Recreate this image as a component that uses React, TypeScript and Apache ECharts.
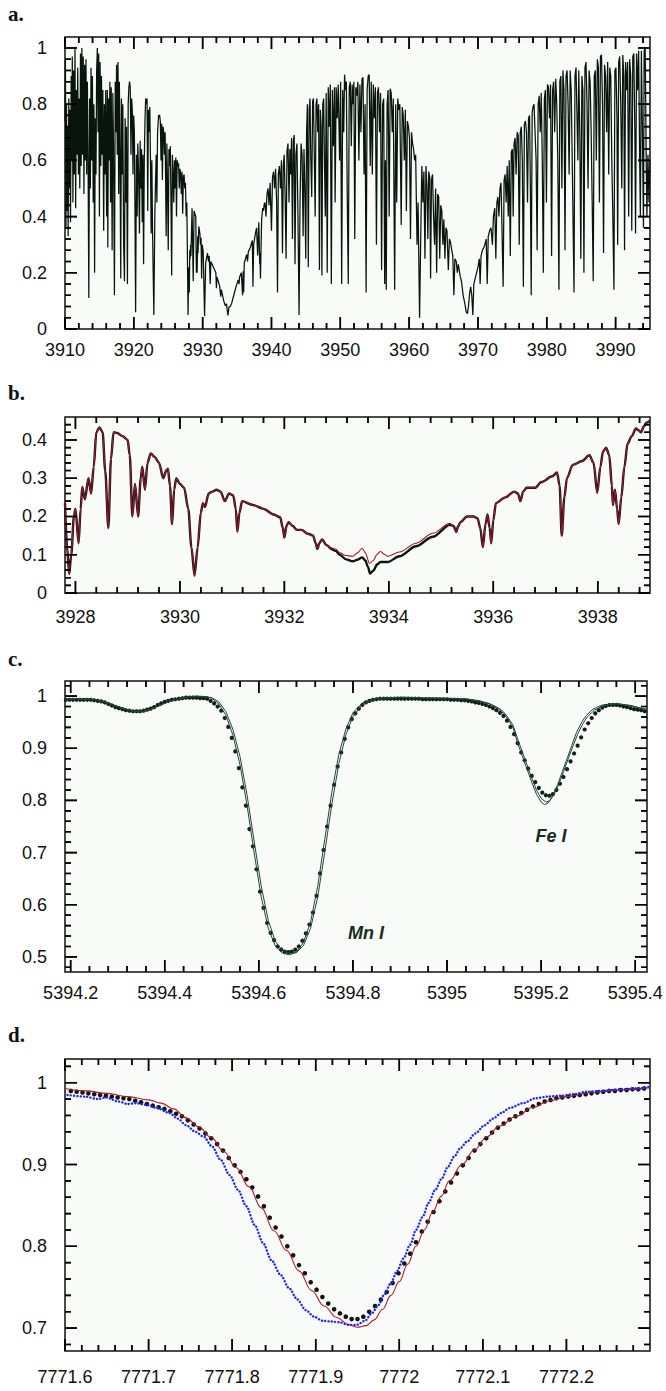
import React, { useEffect, useRef } from "react";
import * as echarts from "echarts";

type P = [number, number];

// ---------------- Panel a : Ca II H & K region ----------------
const A_BLUE_WING: P[] = [
  [3910.00,0.74],[3910.06,0.96],[3910.14,0.36],[3910.22,0.80],[3910.30,0.42],[3910.38,0.72],[3910.46,0.33],[3910.55,0.82],[3910.64,0.50],[3910.72,0.78],
  [3910.80,0.38],[3910.90,0.90],[3910.98,0.60],[3911.06,0.97],[3911.15,0.45],[3911.25,0.92],[3911.35,0.55],[3911.45,1.00],[3911.55,0.43],[3911.65,0.85],
  [3911.75,0.62],[3911.85,0.93],[3911.95,0.55],[3912.05,0.82],[3912.15,0.50],[3912.25,0.98],[3912.35,0.58],[3912.45,1.00],[3912.55,0.62],[3912.65,0.97],
  [3912.75,0.48],[3912.85,0.94],[3912.95,0.60],[3913.05,0.96],[3913.15,0.55],[3913.25,0.88],[3913.35,0.62],[3913.46,0.11],[3913.58,0.82],[3913.68,0.50],
  [3913.78,0.93],[3913.88,0.60],[3913.98,0.90],[3914.10,0.45],[3914.20,0.80],[3914.30,0.20],[3914.40,0.75],[3914.50,0.55],[3914.60,0.92],[3914.70,1.00],
  [3914.80,0.70],[3914.90,0.98],[3915.00,0.40],[3915.10,0.95],[3915.20,0.58],[3915.30,0.90],[3915.40,0.62],[3915.50,0.85],[3915.62,0.35],[3915.72,0.80],
  [3915.82,0.55],[3915.92,0.85],[3916.05,0.40],[3916.15,0.85],[3916.22,0.29],[3916.32,0.82],[3916.42,0.60],[3916.52,0.88],[3916.62,0.45],[3916.72,0.86],
  [3916.85,0.28],[3916.95,0.84],[3917.05,0.65],[3917.18,0.12],[3917.30,0.88],[3917.40,0.70],[3917.50,0.94],[3917.60,0.62],[3917.70,0.95],[3917.80,0.48],
  [3917.90,0.88],[3918.00,0.60],[3918.10,0.18],[3918.20,0.82],[3918.30,0.55],[3918.40,0.80],[3918.52,0.30],[3918.64,0.17],[3918.74,0.75],[3918.84,0.45],
  [3918.94,0.72],[3919.07,0.16],[3919.18,0.80],[3919.28,0.86],[3919.38,0.88],[3919.48,0.86],[3919.58,0.62],[3919.68,0.82],[3919.78,0.78],[3919.88,0.55],
  [3919.98,0.76],[3920.08,0.70],[3920.16,0.45],[3920.26,0.06],[3920.38,0.62],[3920.48,0.40],[3920.58,0.66],[3920.70,0.55],[3920.82,0.34],[3920.92,0.67],
  [3921.02,0.50],[3921.12,0.64],[3921.22,0.38],[3921.32,0.62],[3921.42,0.23],[3921.52,0.60],[3921.62,0.74],[3921.72,0.82],[3921.82,0.80],[3921.92,0.82],
  [3922.02,0.42],[3922.12,0.78],[3922.22,0.70],[3922.32,0.79],[3922.42,0.60],[3922.52,0.34],[3922.62,0.60],[3922.72,0.35],[3922.91,0.05],[3923.05,0.40],
  [3923.15,0.52],[3923.25,0.62],[3923.35,0.45],[3923.45,0.70],[3923.60,0.76],[3923.75,0.76],[3923.85,0.74],[3923.95,0.60],[3924.05,0.73],[3924.15,0.53],
  [3924.25,0.72],[3924.35,0.70],[3924.45,0.62],[3924.55,0.70],[3924.70,0.33],[3924.80,0.66],[3924.90,0.50],[3925.00,0.28],[3925.10,0.64],[3925.20,0.58],
  [3925.30,0.65],[3925.40,0.45],[3925.50,0.19],[3925.60,0.62],[3925.70,0.55],[3925.80,0.45],[3925.90,0.60],[3926.00,0.50],[3926.10,0.61],[3926.20,0.40],
  [3926.30,0.60],[3926.40,0.58],[3926.50,0.59],[3926.60,0.50],[3926.70,0.57],[3926.80,0.55],[3926.90,0.48],[3927.00,0.56],[3927.10,0.41],[3927.20,0.54],
  [3927.30,0.55],[3927.40,0.50],[3927.50,0.52],[3927.60,0.40],[3927.70,0.45],[3927.80,0.235],
];
const A_K_CORE: P[] = [
  [3927.88,0.05],[3927.95,0.18],[3928.00,0.22],[3928.06,0.13],[3928.13,0.28],[3928.18,0.25],[3928.25,0.30],[3928.30,0.26],[3928.46,0.43],[3928.63,0.17],
  [3928.75,0.42],[3929.00,0.40],[3929.09,0.20],[3929.14,0.28],[3929.20,0.20],[3929.28,0.33],[3929.33,0.27],[3929.44,0.365],[3929.60,0.34],[3929.68,0.30],
  [3929.77,0.325],[3929.85,0.18],[3929.93,0.30],[3930.08,0.275],[3930.28,0.045],[3930.44,0.235],[3930.70,0.27],[3930.86,0.24],[3930.96,0.26],[3931.10,0.16],
  [3931.19,0.24],[3931.92,0.20],[3932.00,0.145],[3932.08,0.185],[3932.45,0.155],[3932.63,0.115],[3932.72,0.14],[3933.06,0.10],[3933.30,0.083],[3933.46,0.09],
  [3933.67,0.048],[3933.84,0.08],[3934.00,0.08],[3934.20,0.09],[3934.52,0.12],[3934.85,0.15],[3935.17,0.175],[3935.29,0.16],[3935.37,0.185],[3935.62,0.20],
  [3935.80,0.12],[3935.89,0.205],[3935.96,0.13],[3936.05,0.235],[3936.40,0.265],[3936.52,0.24],[3936.64,0.275],[3936.92,0.29],[3937.22,0.315],[3937.31,0.15],
  [3937.41,0.30],[3937.70,0.345],[3937.84,0.36],[3937.99,0.262],[3938.16,0.38],[3938.29,0.23],[3938.33,0.27],[3938.40,0.18],[3938.57,0.39],[3938.73,0.43],
  [3938.83,0.42],[3938.95,0.445],
];
const A_MID: P[] = [
  [3939.05,0.45],[3939.20,0.40],[3939.35,0.48],[3939.50,0.50],[3939.65,0.44],[3939.80,0.52],[3940.00,0.35],[3940.15,0.54],[3940.30,0.56],[3940.45,0.50],
  [3940.60,0.57],[3940.75,0.45],[3940.88,0.13],[3941.00,0.55],[3941.15,0.58],[3941.30,0.50],[3941.45,0.60],[3941.60,0.27],[3941.72,0.58],[3941.85,0.62],
  [3942.00,0.45],[3942.12,0.25],[3942.25,0.63],[3942.40,0.66],[3942.55,0.45],[3942.68,0.64],[3942.80,0.55],[3942.92,0.68],[3943.05,0.32],[3943.18,0.67],
  [3943.30,0.69],[3943.42,0.23],[3943.55,0.62],[3943.70,0.66],[3943.85,0.40],[3944.01,0.05],[3944.15,0.45],[3944.30,0.66],[3944.45,0.62],[3944.60,0.33],
  [3944.72,0.64],[3944.85,0.50],[3944.98,0.25],[3945.10,0.70],[3945.22,0.80],[3945.35,0.22],[3945.48,0.78],[3945.60,0.82],[3945.72,0.60],[3945.85,0.47],
  [3945.98,0.81],[3946.10,0.82],[3946.22,0.62],[3946.35,0.40],[3946.48,0.80],[3946.60,0.82],[3946.72,0.70],[3946.85,0.80],[3946.97,0.21],[3947.10,0.78],
  [3947.22,0.72],[3947.33,0.19],[3947.45,0.80],[3947.58,0.82],[3947.70,0.60],[3947.82,0.40],[3947.95,0.84],[3948.10,0.20],[3948.25,0.86],[3948.40,0.72],
  [3948.55,0.87],[3948.70,0.16],[3948.85,0.85],[3949.00,0.65],[3949.15,0.86],[3949.25,0.45],[3949.40,0.86],[3949.55,0.75],[3949.70,0.87],[3949.90,0.60],
  [3950.05,0.88],[3950.20,0.16],[3950.35,0.85],[3950.50,0.70],[3950.62,0.905],[3950.75,0.85],[3950.88,0.88],[3951.00,0.50],[3951.16,0.16],[3951.30,0.86],
  [3951.45,0.88],[3951.60,0.65],[3951.72,0.87],[3951.85,0.80],[3951.97,0.88],[3952.10,0.32],[3952.25,0.86],[3952.40,0.83],[3952.55,0.88],[3952.70,0.60],
  [3952.85,0.87],[3953.00,0.70],[3953.15,0.89],[3953.30,0.895],[3953.45,0.55],[3953.60,0.80],[3953.75,0.13],[3953.90,0.85],[3954.05,0.90],[3954.20,0.905],
  [3954.35,0.58],[3954.50,0.88],[3954.65,0.55],[3954.80,0.87],[3954.95,0.75],[3955.10,0.86],[3955.25,0.30],[3955.40,0.84],[3955.55,0.86],[3955.70,0.70],
  [3955.85,0.84],[3956.00,0.21],[3956.15,0.80],[3956.30,0.82],[3956.45,0.16],[3956.55,0.60],[3956.68,0.14],[3956.80,0.80],[3956.95,0.85],[3957.10,0.40],
  [3957.25,0.855],[3957.40,0.84],[3957.55,0.70],[3957.70,0.82],[3957.90,0.14],[3958.05,0.80],[3958.20,0.45],[3958.35,0.82],[3958.50,0.78],[3958.65,0.80],
  [3958.85,0.37],[3959.00,0.79],[3959.15,0.76],[3959.30,0.60],[3959.45,0.78],[3959.60,0.42],[3959.75,0.74],[3959.90,0.72],[3960.05,0.68],[3960.20,0.32],
  [3960.35,0.70],[3960.50,0.66],[3960.65,0.64],[3960.80,0.60],[3960.95,0.62],[3961.15,0.30],[3961.30,0.45],[3961.52,0.04],
];
const A_RED_WING: P[] = [
  [3961.70,0.35],[3961.85,0.58],[3962.00,0.45],[3962.15,0.56],[3962.30,0.25],[3962.45,0.58],[3962.60,0.50],[3962.72,0.32],[3962.85,0.56],[3963.00,0.54],
  [3963.12,0.18],[3963.25,0.53],[3963.40,0.55],[3963.55,0.40],[3963.70,0.30],[3963.85,0.50],[3964.00,0.20],[3964.15,0.48],[3964.30,0.47],[3964.45,0.25],
  [3964.60,0.44],[3964.75,0.42],[3964.90,0.30],[3965.05,0.39],[3965.20,0.25],[3965.35,0.36],[3965.50,0.35],[3965.70,0.21],[3965.85,0.32],[3966.00,0.31],
  [3966.20,0.28],[3966.35,0.26],[3966.50,0.12],[3966.65,0.25],[3966.85,0.24],[3967.00,0.20],[3967.15,0.23],[3967.40,0.19],[3967.60,0.17],[3967.85,0.12],
  [3968.10,0.09],[3968.30,0.06],[3968.47,0.055],[3968.62,0.08],[3968.80,0.13],[3968.95,0.15],[3969.10,0.12],[3969.26,0.05],[3969.40,0.16],[3969.60,0.18],
  [3969.80,0.20],[3970.00,0.22],[3970.20,0.25],[3970.32,0.16],[3970.45,0.26],[3970.65,0.28],[3970.85,0.29],[3971.00,0.30],[3971.20,0.32],[3971.35,0.16],
  [3971.50,0.33],[3971.70,0.35],[3971.90,0.36],[3972.10,0.30],[3972.25,0.40],[3972.45,0.43],[3972.60,0.25],[3972.75,0.45],[3972.90,0.47],[3973.05,0.40],
  [3973.20,0.50],[3973.35,0.52],[3973.50,0.35],[3973.66,0.15],[3973.80,0.53],[3973.95,0.55],[3974.10,0.45],[3974.25,0.58],[3974.40,0.40],[3974.55,0.60],
  [3974.70,0.26],[3974.85,0.63],[3975.00,0.64],[3975.12,0.40],[3975.25,0.66],[3975.40,0.68],[3975.55,0.55],[3975.70,0.70],[3975.85,0.69],[3976.00,0.30],
  [3976.15,0.70],[3976.30,0.72],[3976.45,0.60],[3976.60,0.15],[3976.75,0.73],[3976.90,0.74],[3977.05,0.70],[3977.20,0.45],[3977.35,0.75],[3977.50,0.76],
  [3977.62,0.50],[3977.74,0.12],[3977.88,0.77],[3978.00,0.79],[3978.15,0.80],[3978.30,0.70],[3978.45,0.60],[3978.60,0.28],[3978.75,0.80],[3978.90,0.83],
  [3979.05,0.70],[3979.20,0.84],[3979.35,0.60],[3979.50,0.20],[3979.65,0.82],[3979.80,0.85],[3979.95,0.45],[3980.10,0.87],[3980.25,0.86],[3980.40,0.75],
  [3980.55,0.87],[3980.70,0.26],[3980.85,0.85],[3981.00,0.88],[3981.15,0.70],[3981.30,0.89],[3981.45,0.80],[3981.60,0.60],[3981.77,0.14],[3981.90,0.88],
  [3982.05,0.90],[3982.20,0.50],[3982.35,0.92],[3982.50,0.85],[3982.65,0.28],[3982.80,0.90],[3982.95,0.92],[3983.10,0.80],[3983.25,0.55],[3983.40,0.92],
  [3983.55,0.85],[3983.70,0.60],[3983.96,0.13],[3984.10,0.90],[3984.25,0.93],[3984.40,0.75],[3984.52,0.60],[3984.65,0.92],[3984.80,0.70],[3984.95,0.25],
  [3985.10,0.90],[3985.25,0.85],[3985.40,0.20],[3985.55,0.93],[3985.70,0.95],[3985.85,0.80],[3986.00,0.50],[3986.15,0.92],[3986.30,0.88],[3986.45,0.70],
  [3986.60,0.45],[3986.75,0.17],[3986.90,0.90],[3987.05,0.92],[3987.20,0.60],[3987.35,0.96],[3987.50,0.93],[3987.65,0.45],[3987.80,0.97],[3987.95,0.975],
  [3988.10,0.80],[3988.25,0.27],[3988.40,0.94],[3988.55,0.90],[3988.70,0.70],[3988.85,0.95],[3989.00,0.55],[3989.15,0.93],[3989.30,0.90],[3989.45,0.60],
  [3989.60,0.40],[3989.76,0.14],[3989.90,0.92],[3990.05,0.93],[3990.20,0.75],[3990.30,0.30],[3990.45,0.95],[3990.60,0.97],[3990.75,0.80],[3990.90,0.50],
  [3991.05,0.975],[3991.20,0.90],[3991.30,0.28],[3991.45,0.95],[3991.60,0.85],[3991.75,0.95],[3991.90,0.40],[3992.05,0.96],[3992.20,0.90],[3992.35,0.35],
  [3992.50,0.97],[3992.65,0.98],[3992.80,0.70],[3992.90,0.34],[3993.05,0.98],[3993.20,0.85],[3993.35,0.99],[3993.50,0.60],[3993.60,0.40],[3993.75,0.99],
  [3993.90,0.70],[3994.05,0.36],[3994.15,0.99],[3994.30,1.00],[3994.45,0.60],[3994.55,0.40],[3994.70,0.62],[3994.85,0.45],[3995.00,0.60],
];
const A_X_TICKS = [3910, 3920, 3930, 3940, 3950, 3960, 3970, 3980, 3990];
const A_Y_TICKS = [0, 0.2, 0.4, 0.6, 0.8, 1];

// ---------------- Panel b : K line core ----------------
const B_MODEL: P[] = [
  [3927.80,0.235],[3927.84,0.12],[3927.88,0.05],[3927.92,0.10],[3927.97,0.20],[3928.00,0.22],[3928.06,0.13],[3928.10,0.22],[3928.13,0.277],[3928.18,0.245],
  [3928.25,0.30],[3928.30,0.26],[3928.35,0.33],[3928.40,0.42],[3928.46,0.433],[3928.52,0.42],[3928.57,0.32],[3928.63,0.17],[3928.68,0.35],[3928.73,0.42],
  [3928.80,0.418],[3928.90,0.41],[3929.00,0.40],[3929.04,0.36],[3929.09,0.20],[3929.14,0.285],[3929.20,0.20],[3929.25,0.30],[3929.28,0.33],[3929.33,0.27],
  [3929.38,0.34],[3929.44,0.365],[3929.52,0.355],[3929.60,0.34],[3929.68,0.30],[3929.74,0.32],[3929.77,0.325],[3929.81,0.28],[3929.85,0.18],[3929.89,0.27],
  [3929.93,0.30],[3930.00,0.285],[3930.08,0.275],[3930.16,0.22],[3930.22,0.12],[3930.28,0.045],[3930.34,0.12],[3930.40,0.21],[3930.44,0.235],[3930.48,0.225],
  [3930.55,0.26],[3930.62,0.265],[3930.70,0.27],[3930.78,0.265],[3930.86,0.24],[3930.94,0.26],[3931.02,0.255],[3931.07,0.22],[3931.10,0.16],[3931.14,0.21],
  [3931.19,0.24],[3931.40,0.23],[3931.60,0.22],[3931.80,0.205],[3931.92,0.198],[3931.97,0.17],[3932.00,0.145],[3932.04,0.175],[3932.08,0.185],[3932.16,0.175],
  [3932.24,0.165],[3932.33,0.165],[3932.45,0.155],[3932.55,0.15],[3932.60,0.13],[3932.63,0.115],[3932.67,0.13],[3932.72,0.14],[3932.81,0.125],[3932.90,0.118],
  [3932.98,0.115],[3933.06,0.105],[3933.18,0.098],[3933.31,0.096],[3933.40,0.105],[3933.49,0.117],[3933.55,0.105],[3933.63,0.077],[3933.70,0.085],[3933.78,0.102],
  [3933.84,0.109],[3933.90,0.102],[3933.98,0.096],[3934.20,0.107],[3934.52,0.13],[3934.84,0.156],[3935.17,0.182],[3935.24,0.175],[3935.29,0.16],[3935.33,0.175],
  [3935.37,0.185],[3935.50,0.20],[3935.62,0.20],[3935.70,0.195],[3935.75,0.17],[3935.80,0.12],[3935.85,0.18],[3935.89,0.205],[3935.93,0.17],[3935.96,0.13],
  [3936.00,0.19],[3936.05,0.235],[3936.23,0.25],[3936.40,0.265],[3936.47,0.26],[3936.52,0.24],[3936.57,0.265],[3936.64,0.275],[3936.80,0.275],[3936.92,0.29],
  [3937.13,0.305],[3937.22,0.315],[3937.27,0.28],[3937.31,0.15],[3937.36,0.25],[3937.41,0.30],[3937.52,0.335],[3937.70,0.345],[3937.84,0.36],[3937.92,0.34],
  [3937.99,0.262],[3938.05,0.33],[3938.10,0.37],[3938.16,0.38],[3938.22,0.36],[3938.27,0.28],[3938.29,0.23],[3938.33,0.27],[3938.37,0.22],[3938.40,0.18],
  [3938.45,0.25],[3938.51,0.33],[3938.57,0.39],[3938.65,0.41],[3938.73,0.43],[3938.78,0.425],[3938.83,0.42],[3938.88,0.435],[3938.93,0.445],[3939.00,0.45],
];
// observed core, where it departs from the model
const B_OBS_CORE: P[] = [
  [3932.81,0.125],[3932.90,0.115],[3932.98,0.11],[3933.06,0.10],[3933.18,0.088],[3933.31,0.083],[3933.40,0.087],[3933.49,0.093],[3933.55,0.085],[3933.60,0.068],
  [3933.64,0.051],[3933.70,0.058],[3933.78,0.075],[3933.84,0.081],[3933.90,0.081],[3933.98,0.081],[3934.20,0.096],[3934.52,0.122],[3934.84,0.147],[3935.17,0.178],
];
const B_X_TICKS = [3928, 3930, 3932, 3934, 3936, 3938];
const B_Y_TICKS = [0, 0.1, 0.2, 0.3, 0.4];

// ---------------- Panel c : Mn I / Fe I ----------------
const C_OBS: P[] = [
  [5394.1900,0.993],[5394.1975,0.993],[5394.2050,0.993],[5394.2125,0.993],[5394.2200,0.993],[5394.2275,0.993],[5394.2350,0.993],[5394.2425,0.993],[5394.2500,0.992],[5394.2575,0.991],
  [5394.2650,0.990],[5394.2725,0.988],[5394.2800,0.985],[5394.2875,0.982],[5394.2950,0.979],[5394.3025,0.977],[5394.3100,0.975],[5394.3175,0.973],[5394.3250,0.972],[5394.3325,0.971],
  [5394.3400,0.971],[5394.3475,0.971],[5394.3550,0.972],[5394.3625,0.974],[5394.3700,0.976],[5394.3775,0.979],[5394.3850,0.983],[5394.3925,0.986],[5394.4000,0.989],[5394.4075,0.991],
  [5394.4150,0.993],[5394.4225,0.994],[5394.4300,0.995],[5394.4375,0.996],[5394.4450,0.997],[5394.4525,0.997],[5394.4600,0.997],[5394.4675,0.997],[5394.4750,0.996],[5394.4825,0.996],
  [5394.4900,0.995],[5394.4975,0.991],[5394.5050,0.986],[5394.5125,0.980],[5394.5200,0.972],[5394.5275,0.958],[5394.5350,0.941],[5394.5425,0.920],[5394.5500,0.894],[5394.5575,0.862],
  [5394.5650,0.825],[5394.5725,0.790],[5394.5800,0.745],[5394.5875,0.712],[5394.5950,0.668],[5394.6025,0.625],[5394.6100,0.594],[5394.6175,0.565],[5394.6250,0.546],[5394.6325,0.532],
  [5394.6400,0.520],[5394.6475,0.514],[5394.6550,0.510],[5394.6625,0.509],[5394.6700,0.510],[5394.6775,0.514],[5394.6850,0.520],[5394.6925,0.531],[5394.7000,0.545],[5394.7075,0.562],
  [5394.7150,0.585],[5394.7225,0.617],[5394.7300,0.660],[5394.7375,0.705],[5394.7450,0.750],[5394.7525,0.790],[5394.7600,0.830],[5394.7675,0.865],[5394.7750,0.892],[5394.7825,0.918],
  [5394.7900,0.940],[5394.7975,0.956],[5394.8050,0.967],[5394.8125,0.976],[5394.8200,0.983],[5394.8275,0.988],[5394.8350,0.991],[5394.8425,0.993],[5394.8500,0.994],[5394.8575,0.995],
  [5394.8650,0.995],[5394.8725,0.995],[5394.8800,0.995],[5394.8875,0.995],[5394.8950,0.995],[5394.9025,0.995],[5394.9100,0.995],[5394.9175,0.995],[5394.9250,0.995],[5394.9325,0.995],
  [5394.9400,0.995],[5394.9475,0.994],[5394.9550,0.994],[5394.9625,0.994],[5394.9700,0.994],[5394.9775,0.994],[5394.9850,0.994],[5394.9925,0.994],[5395.0000,0.994],[5395.0075,0.993],
  [5395.0150,0.993],[5395.0225,0.993],[5395.0300,0.992],[5395.0375,0.992],[5395.0450,0.991],[5395.0525,0.990],[5395.0600,0.988],[5395.0675,0.987],[5395.0750,0.985],[5395.0825,0.983],
  [5395.0900,0.980],[5395.0975,0.977],[5395.1050,0.973],[5395.1125,0.968],[5395.1200,0.962],[5395.1275,0.953],[5395.1350,0.941],[5395.1425,0.927],[5395.1500,0.910],[5395.1575,0.892],
  [5395.1650,0.877],[5395.1725,0.861],[5395.1800,0.847],[5395.1875,0.835],[5395.1950,0.824],[5395.2025,0.815],[5395.2100,0.810],[5395.2175,0.809],[5395.2250,0.812],[5395.2325,0.820],
  [5395.2400,0.832],[5395.2475,0.845],[5395.2550,0.860],[5395.2625,0.875],[5395.2700,0.890],[5395.2775,0.905],[5395.2850,0.921],[5395.2925,0.936],[5395.3000,0.948],[5395.3075,0.958],
  [5395.3150,0.967],[5395.3225,0.973],[5395.3300,0.978],[5395.3375,0.981],[5395.3450,0.983],[5395.3525,0.983],[5395.3600,0.983],[5395.3675,0.982],[5395.3750,0.980],[5395.3825,0.979],
  [5395.3900,0.977],[5395.3975,0.975],[5395.4050,0.974],[5395.4125,0.973],[5395.4200,0.971],
];
const C_MODEL_1: P[] = [
  [5394.188,0.995],[5394.22,0.995],[5394.25,0.994],[5394.27,0.990],[5394.29,0.984],[5394.31,0.977],[5394.33,0.972],[5394.35,0.971],[5394.37,0.975],[5394.39,0.983],
  [5394.41,0.991],[5394.43,0.996],[5394.45,0.999],[5394.47,1.0],[5394.49,0.999],[5394.50,0.996],[5394.515,0.985],[5394.53,0.963],[5394.545,0.925],[5394.56,0.868],
  [5394.575,0.790],[5394.59,0.700],[5394.605,0.615],[5394.62,0.555],[5394.635,0.521],[5394.65,0.507],[5394.665,0.504],[5394.68,0.509],[5394.695,0.528],[5394.71,0.567],
  [5394.725,0.635],[5394.74,0.725],[5394.755,0.815],[5394.77,0.888],[5394.785,0.937],[5394.80,0.968],[5394.82,0.987],[5394.85,0.996],[5394.90,0.998],[5394.95,0.997],
  [5395.00,0.996],[5395.04,0.995],[5395.07,0.991],[5395.09,0.985],[5395.11,0.975],[5395.12,0.967],[5395.13,0.955],[5395.14,0.940],[5395.15,0.910],[5395.16,0.885],
  [5395.17,0.860],[5395.18,0.835],[5395.19,0.812],[5395.20,0.797],[5395.207,0.792],[5395.215,0.795],[5395.225,0.810],[5395.235,0.830],[5395.245,0.855],[5395.255,0.880],
  [5395.265,0.905],[5395.275,0.930],[5395.285,0.948],[5395.295,0.962],[5395.31,0.975],[5395.33,0.983],[5395.36,0.986],[5395.39,0.982],[5395.425,0.974],
];
const C_MODEL_2: P[] = [
  [5394.188,0.993],[5394.22,0.994],[5394.25,0.993],[5394.27,0.989],[5394.29,0.983],[5394.31,0.976],[5394.33,0.971],[5394.35,0.970],[5394.37,0.974],[5394.39,0.982],
  [5394.41,0.990],[5394.43,0.995],[5394.45,0.998],[5394.47,0.999],[5394.49,0.998],[5394.50,0.997],[5394.515,0.989],[5394.53,0.970],[5394.545,0.936],[5394.56,0.884],
  [5394.575,0.810],[5394.59,0.722],[5394.605,0.636],[5394.62,0.570],[5394.635,0.530],[5394.65,0.512],[5394.665,0.507],[5394.68,0.508],[5394.695,0.522],[5394.71,0.555],
  [5394.725,0.614],[5394.74,0.700],[5394.755,0.792],[5394.77,0.870],[5394.785,0.926],[5394.80,0.961],[5394.82,0.984],[5394.85,0.994],[5394.90,0.997],[5394.95,0.996],
  [5395.00,0.995],[5395.04,0.994],[5395.07,0.990],[5395.09,0.986],[5395.11,0.977],[5395.12,0.970],[5395.13,0.958],[5395.14,0.945],[5395.15,0.918],[5395.16,0.893],
  [5395.17,0.868],[5395.18,0.843],[5395.19,0.820],[5395.20,0.804],[5395.21,0.797],[5395.218,0.799],[5395.228,0.812],[5395.238,0.832],[5395.248,0.856],[5395.258,0.881],
  [5395.268,0.905],[5395.278,0.928],[5395.288,0.946],[5395.298,0.960],[5395.313,0.973],[5395.333,0.982],[5395.36,0.985],[5395.39,0.982],[5395.425,0.974],
];
const C_X_TICKS = [5394.2, 5394.4, 5394.6, 5394.8, 5395, 5395.2, 5395.4];
const C_Y_TICKS = [0.5, 0.6, 0.7, 0.8, 0.9, 1];

// ---------------- Panel d : O I 7772 ----------------
const D_MODEL: P[] = [
  [7771.600,0.993],[7771.625,0.990],[7771.650,0.987],[7771.675,0.983],[7771.700,0.979],[7771.715,0.975],[7771.730,0.968],[7771.745,0.957],[7771.760,0.946],[7771.775,0.933],
  [7771.790,0.916],[7771.805,0.896],[7771.820,0.873],[7771.835,0.847],[7771.850,0.819],[7771.865,0.795],[7771.880,0.770],[7771.895,0.746],[7771.910,0.727],[7771.925,0.713],
  [7771.940,0.704],[7771.950,0.701],[7771.960,0.703],[7771.970,0.710],[7771.980,0.723],[7771.990,0.740],[7772.000,0.757],[7772.010,0.778],[7772.020,0.800],[7772.030,0.820],
  [7772.040,0.842],[7772.050,0.861],[7772.060,0.880],[7772.075,0.900],[7772.090,0.918],[7772.105,0.934],[7772.120,0.947],[7772.140,0.959],[7772.160,0.970],[7772.180,0.978],
  [7772.200,0.983],[7772.230,0.988],[7772.260,0.991],[7772.300,0.994],
];
const D_OBS: P[] = [
  [7771.607,0.990],[7771.614,0.989],[7771.621,0.988],[7771.628,0.987],[7771.635,0.986],[7771.642,0.985],[7771.649,0.984],[7771.656,0.983],[7771.663,0.982],[7771.670,0.981],
  [7771.677,0.980],[7771.684,0.978],[7771.691,0.976],[7771.698,0.974],[7771.705,0.972],[7771.712,0.970],[7771.719,0.968],[7771.726,0.965],[7771.733,0.962],[7771.740,0.959],
  [7771.747,0.954],[7771.754,0.949],[7771.761,0.944],[7771.768,0.938],[7771.775,0.932],[7771.782,0.925],[7771.789,0.917],[7771.796,0.908],[7771.803,0.899],[7771.810,0.891],
  [7771.817,0.882],[7771.824,0.872],[7771.831,0.861],[7771.838,0.849],[7771.845,0.835],[7771.852,0.823],[7771.859,0.812],[7771.866,0.800],[7771.873,0.789],[7771.880,0.777],
  [7771.887,0.767],[7771.894,0.756],[7771.901,0.747],[7771.908,0.738],[7771.915,0.730],[7771.922,0.723],[7771.929,0.718],[7771.936,0.714],[7771.943,0.711],[7771.950,0.711],
  [7771.957,0.714],[7771.964,0.720],[7771.971,0.727],[7771.978,0.735],[7771.985,0.744],[7771.992,0.755],[7771.999,0.767],[7772.006,0.779],[7772.013,0.791],[7772.020,0.805],
  [7772.027,0.818],[7772.034,0.830],[7772.041,0.842],[7772.048,0.855],[7772.055,0.867],[7772.062,0.878],[7772.069,0.889],[7772.076,0.899],[7772.083,0.908],[7772.090,0.917],
  [7772.097,0.925],[7772.104,0.932],[7772.111,0.939],[7772.118,0.945],[7772.125,0.950],[7772.132,0.955],[7772.139,0.959],[7772.146,0.963],[7772.153,0.967],[7772.160,0.971],
  [7772.167,0.974],[7772.174,0.977],[7772.181,0.979],[7772.188,0.981],[7772.195,0.982],[7772.202,0.983],[7772.209,0.984],[7772.216,0.985],[7772.223,0.986],[7772.230,0.987],
  [7772.237,0.988],[7772.244,0.989],[7772.251,0.990],[7772.258,0.990],[7772.265,0.991],[7772.272,0.991],[7772.279,0.992],[7772.286,0.992],[7772.293,0.993],
];
const D_BLUE: P[] = [
  [7771.603,0.985],[7771.624,0.983],[7771.639,0.980],[7771.649,0.982],[7771.664,0.977],[7771.675,0.974],[7771.685,0.975],[7771.697,0.973],[7771.710,0.969],[7771.725,0.963],
  [7771.735,0.956],[7771.745,0.948],[7771.756,0.940],[7771.766,0.934],[7771.776,0.922],[7771.786,0.906],[7771.797,0.887],[7771.807,0.869],[7771.817,0.849],[7771.827,0.826],
  [7771.837,0.804],[7771.847,0.783],[7771.858,0.765],[7771.868,0.749],[7771.878,0.735],[7771.888,0.722],[7771.898,0.714],[7771.908,0.709],[7771.919,0.708],[7771.929,0.707],
  [7771.939,0.704],[7771.949,0.704],[7771.959,0.709],[7771.967,0.718],[7771.975,0.728],[7771.982,0.741],[7771.990,0.755],[7771.997,0.769],[7772.005,0.785],[7772.013,0.802],
  [7772.020,0.820],[7772.028,0.836],[7772.035,0.853],[7772.043,0.869],[7772.051,0.883],[7772.058,0.897],[7772.066,0.910],[7772.073,0.920],[7772.081,0.928],[7772.091,0.938],
  [7772.102,0.948],[7772.112,0.956],[7772.122,0.963],[7772.132,0.969],[7772.148,0.975],[7772.163,0.981],[7772.178,0.983],[7772.193,0.984],[7772.209,0.986],[7772.224,0.989],
  [7772.244,0.990],[7772.265,0.992],[7772.285,0.993],[7772.300,0.995],
];
const D_X_TICKS = [7771.6, 7771.7, 7771.8, 7771.9, 7772, 7772.1, 7772.2];
const D_Y_TICKS = [0.7, 0.8, 0.9, 1];

// ---------------- layout ----------------
const FONT = '"Liberation Sans", Arial, Helvetica, sans-serif';
const INK = "#000000";

function seq(a: number, b: number, s: number): number[] {
  const out: number[] = [];
  const n = Math.round((b - a) / s);
  for (let i = 0; i <= n; i++) out.push(Math.round((a + i * s) * 1e6) / 1e6);
  return out;
}
function minors(a: number, b: number, s: number, majors: number[]): number[] {
  return seq(a, b, s).filter((v) => !majors.some((m) => Math.abs(m - v) < 1e-6));
}
const fmt = (v: number) => String(Math.round(v * 10000) / 10000);

function xAxisOf(grid: number, min: number, max: number, majors: number[], margin: number) {
  return {
    type: "value", gridIndex: grid, min, max, position: "bottom",
    splitLine: { show: false }, axisLine: { show: false }, axisTick: { show: false },
    axisLabel: { show: true, customValues: majors, margin, formatter: fmt, color: "#111", fontSize: 18, fontFamily: FONT, showMinLabel: true, showMaxLabel: true, hideOverlap: false },
  };
}
function yAxisOf(grid: number, min: number, max: number, majors: number[]) {
  return {
    type: "value", gridIndex: grid, min, max, position: "left",
    splitLine: { show: false }, axisLine: { show: false }, axisTick: { show: false },
    axisLabel: { show: true, customValues: majors, margin: 18, formatter: fmt, color: "#111", fontSize: 18, fontFamily: FONT, showMinLabel: true, showMaxLabel: true, hideOverlap: false },
  };
}

// inward tick marks on all four sides, as broken segments drawn by a line series
function tickLines(
  grid: number, xr: [number, number], yr: [number, number], w: number, h: number,
  xMaj: number[], xMin: number[], yMaj: number[], yMin: number[],
) {
  const ux = (xr[1] - xr[0]) / w;
  const uy = (yr[1] - yr[0]) / h;
  const data: any[] = [];
  const xt = (v: number, len: number) => {
    data.push([v, yr[0]], [v, yr[0] + len * uy], "-", [v, yr[1]], [v, yr[1] - len * uy], "-");
  };
  const yt = (v: number, len: number) => {
    data.push([xr[0], v], [xr[0] + len * ux, v], "-", [xr[1], v], [xr[1] - len * ux, v], "-");
  };
  xMaj.forEach((v) => xt(v, 12));
  xMin.forEach((v) => xt(v, 6));
  yMaj.forEach((v) => yt(v, 12));
  yMin.forEach((v) => yt(v, 6));
  return {
    type: "line", xAxisIndex: grid, yAxisIndex: grid, data, showSymbol: false, symbol: "none",
    connectNulls: false, lineStyle: { color: INK, width: 1.6, opacity: 1 }, silent: true, clip: false, z: 6,
  };
}

export default function App() {
  const ref = useRef<HTMLDivElement>(null);
  useEffect(() => {
    if (!ref.current) return;
    const chart = echarts.init(ref.current, undefined, { renderer: "svg" });

    const G = [
      { left: 65, top: 37, width: 585, height: 292 },
      { left: 65, top: 417, width: 585, height: 176 },
      { left: 65, top: 681, width: 582, height: 291 },
      { left: 65, top: 1059, width: 585, height: 292 },
    ];
    const XR: [number, number][] = [[3910, 3995], [3927.8, 3939.0], [5394.188, 5395.425], [7771.6, 7772.3]];
    const YR: [number, number][] = [[0, 1.039], [0, 0.46], [0.471, 1.029], [0.672, 1.029]];
    const TICKS = [
      { xMaj: A_X_TICKS, xMin: minors(3910, 3994, 2, A_X_TICKS), yMaj: A_Y_TICKS, yMin: minors(0, 1.0, 0.04, A_Y_TICKS) },
      { xMaj: B_X_TICKS, xMin: minors(3928, 3938.8, 0.4, B_X_TICKS), yMaj: B_Y_TICKS, yMin: minors(0, 0.44, 0.02, B_Y_TICKS) },
      { xMaj: C_X_TICKS, xMin: minors(5394.2, 5395.4, 0.04, C_X_TICKS), yMaj: C_Y_TICKS, yMin: minors(0.48, 1.02, 0.02, C_Y_TICKS) },
      { xMaj: D_X_TICKS, xMin: minors(7771.6, 7772.28, 0.02, D_X_TICKS), yMaj: D_Y_TICKS, yMin: minors(0.68, 1.02, 0.02, D_Y_TICKS) },
    ];

    const gridBase = { show: true, backgroundColor: "#f8fbf8", borderColor: "#111", borderWidth: 1.5, containLabel: false };
    const grids = G.map((g) => ({ ...gridBase, ...g }));

    const xAxis = [
      xAxisOf(0, XR[0][0], XR[0][1], A_X_TICKS, 12),
      xAxisOf(1, XR[1][0], XR[1][1], B_X_TICKS, 15),
      xAxisOf(2, XR[2][0], XR[2][1], C_X_TICKS, 12),
      xAxisOf(3, XR[3][0], XR[3][1], D_X_TICKS, 17),
    ];
    const yAxis = [
      yAxisOf(0, YR[0][0], YR[0][1], A_Y_TICKS),
      yAxisOf(1, YR[1][0], YR[1][1], B_Y_TICKS),
      yAxisOf(2, YR[2][0], YR[2][1], C_Y_TICKS),
      yAxisOf(3, YR[3][0], YR[3][1], D_Y_TICKS),
    ];

    const aData = [...A_BLUE_WING, ...A_K_CORE, ...A_MID, ...A_RED_WING];
    const bObs = [
      ...B_MODEL.filter((p) => p[0] < B_OBS_CORE[0][0]),
      ...B_OBS_CORE,
      ...B_MODEL.filter((p) => p[0] > B_OBS_CORE[B_OBS_CORE.length - 1][0]),
    ];

    const line = (grid: number, data: P[], color: string, width: number, extra: any = {}, smooth = 0) => ({
      type: "line", xAxisIndex: grid, yAxisIndex: grid, data, showSymbol: false, symbol: "none",
      smooth, smoothMonotone: "x",
      lineStyle: { color, width, ...extra }, silent: true, clip: true,
    });
    const dots = (grid: number, data: P[], color: string, size: number) => ({
      type: "scatter", xAxisIndex: grid, yAxisIndex: grid, data, symbol: "circle", symbolSize: size,
      itemStyle: { color, opacity: 1 }, silent: true, clip: true,
    });

    const labelText = (text: string, y: number) => ({
      type: "text", x: 8, y, z: 100, style: { text, font: 'bold 21px "Liberation Serif", "Times New Roman", serif', fill: "#111", verticalAlign: "middle" },
    });
    const ion = (text: string, x: number, y: number) => ({
      type: "text", x, y, z: 100, style: { text, font: `italic bold 18px ${FONT}`, fill: "#1a2b22", align: "center", verticalAlign: "middle" },
    });
    const texts = [
      labelText("a.", 14),
      labelText("b.", 393),
      labelText("c.", 659),
      labelText("d.", 1035),
      ion("Mn I", 366, 933),
      ion("Fe I", 551, 836),
    ];

    chart.setOption({
      animation: false,
      backgroundColor: "#ffffff",
      grid: grids,
      xAxis,
      yAxis,
      series: [
        line(0, aData, "#08150f", 1.25),
        line(1, bObs, "#0c1711", 2.4, {}, 0.3),
        line(1, B_MODEL, "#a3162c", 1.1, {}, 0.3),
        line(2, C_MODEL_1, "#24443a", 1),
        line(2, C_MODEL_2, "#24443a", 1),
        dots(2, C_OBS, "#0f2018", 4.2),
        line(3, D_MODEL, "#b0182c", 1.1, {}, 0.4),
        line(3, D_BLUE, "#2424ff", 2.4, { type: [0.1, 3.2], cap: "round" }, 0.3),
        dots(3, D_OBS, "#101510", 4.6),
        ...G.map((g, i) => tickLines(i, XR[i], YR[i], g.width, g.height, TICKS[i].xMaj, TICKS[i].xMin, TICKS[i].yMaj, TICKS[i].yMin)),
      ],
      graphic: texts,
    });

    // the same tick marks once more as graphic lines, positioned through each grid's axes
    const tickEls: any[] = [];
    G.forEach((g, i) => {
      const top = g.top, bottom = g.top + g.height, left = g.left, right = g.left + g.width;
      const px = (v: number) => chart.convertToPixel({ xAxisIndex: i } as any, v) as unknown as number;
      const py = (v: number) => chart.convertToPixel({ yAxisIndex: i } as any, v) as unknown as number;
      const seg = (x1: number, y1: number, x2: number, y2: number) =>
        tickEls.push({ type: "line", z: 100, silent: true, shape: { x1, y1, x2, y2 }, style: { stroke: INK, lineWidth: 1.4 } });
      const addX = (v: number, len: number) => {
        const x = px(v);
        if (typeof x !== "number" || !isFinite(x)) return;
        seg(x, bottom, x, bottom - len);
        seg(x, top, x, top + len);
      };
      const addY = (v: number, len: number) => {
        const y = py(v);
        if (typeof y !== "number" || !isFinite(y)) return;
        seg(left, y, left + len, y);
        seg(right, y, right - len, y);
      };
      TICKS[i].xMaj.forEach((v) => addX(v, 12));
      TICKS[i].xMin.forEach((v) => addX(v, 6));
      TICKS[i].yMaj.forEach((v) => addY(v, 12));
      TICKS[i].yMin.forEach((v) => addY(v, 6));
    });
    if (tickEls.length) chart.setOption({ graphic: [...texts, ...tickEls] });

    return () => chart.dispose();
  }, []);
  return <div ref={ref} style={{ position: "absolute", left: 0, top: 0, width: 666, height: 1391, background: "#fff" }} />;
}
